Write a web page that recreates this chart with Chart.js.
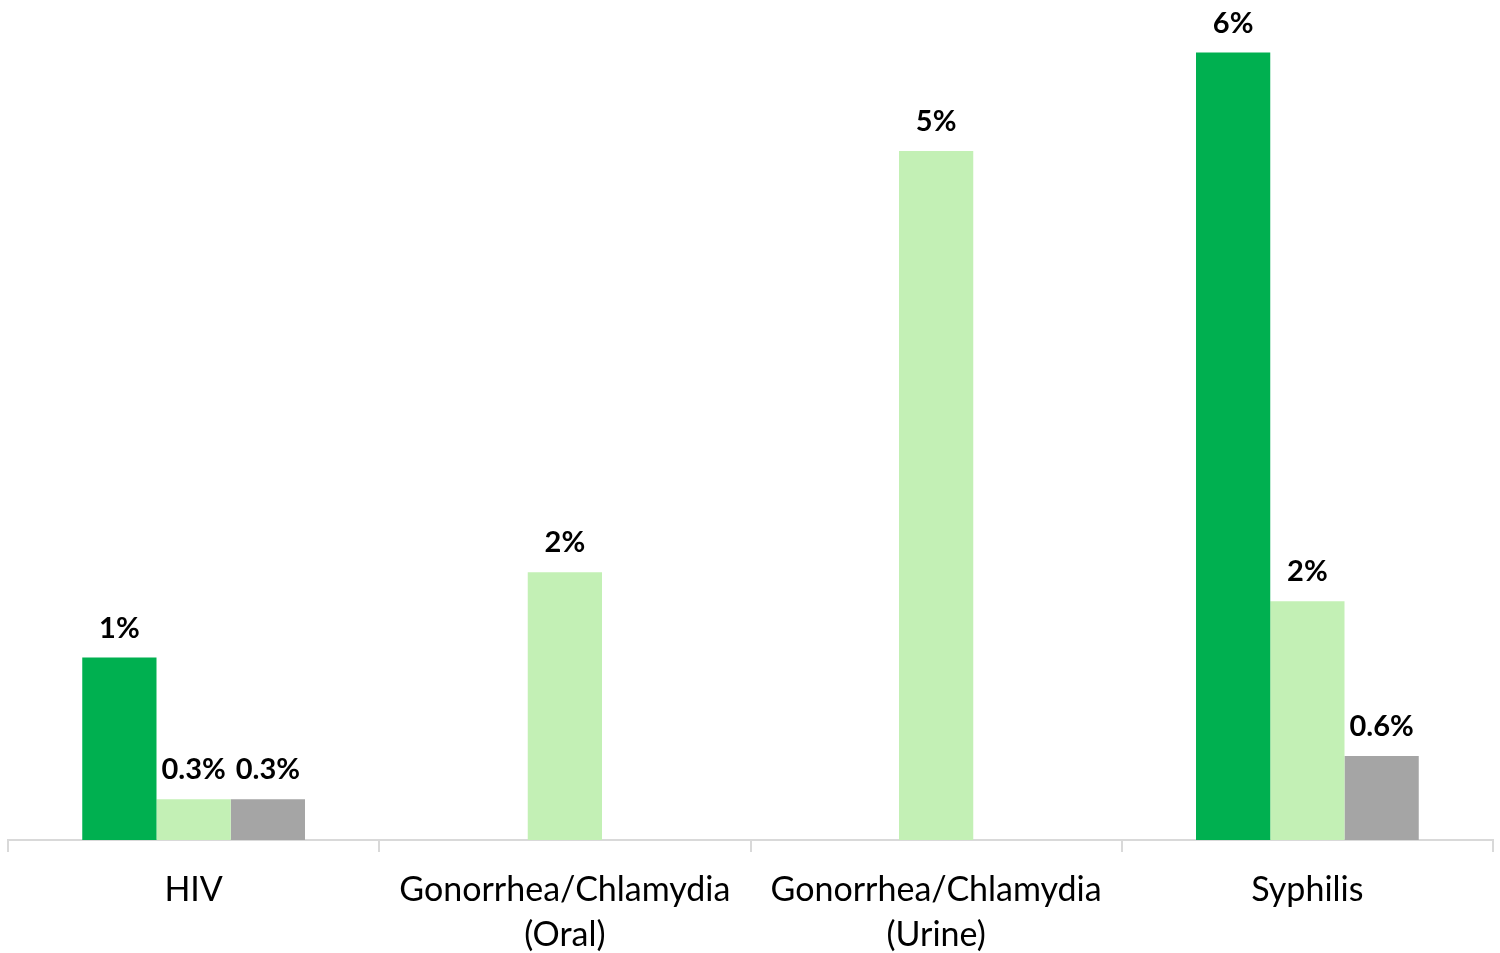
<!DOCTYPE html>
<html>
<head>
<meta charset="utf-8">
<script src="https://cdn.jsdelivr.net/npm/chart.js@4.4.1/dist/chart.umd.min.js"></script>
<style>
  html, body { margin: 0; padding: 0; background: #ffffff; }
  #wrap { width: 1500px; height: 953px; position: relative; }
</style>
</head>
<body>
<div id="wrap"><canvas id="chart"></canvas></div>
<script>
// Categories (x axis)
const categories = [
    'HIV',
    ['Gonorrhea/Chlamydia', '(Oral)'],
    ['Gonorrhea/Chlamydia', '(Urine)'],
    'Syphilis'
];

// Series values in percent (null = no bar)
const seriesDark = [1.39, null, null, 6.0];
const seriesLight = [0.31, 2.04, 5.25, 1.82];
const seriesGray = [0.31, null, null, 0.64];

// Label text
const formatPct = v => (v >= 1 ? Math.round(v) : v.toFixed(1)) + '%';

// Draw data labels above bars
const barLabels = {
    id: 'barLabels',
    afterDatasetsDraw(chart) {
        const ctx = chart.ctx;
        ctx.save();
        ctx.font = 'bold 29px Lato';
        ctx.fillStyle = '#000000';
        ctx.textAlign = 'center';
        ctx.textBaseline = 'alphabetic';
        chart.data.datasets.forEach((ds, i) => {
            const meta = chart.getDatasetMeta(i);
            meta.data.forEach((bar, j) => {
                const v = ds.data[j];
                if (v === null || v === undefined) return;
                ctx.fillText(formatPct(v), bar.x, bar.y - 20);
            });
        });
        ctx.restore();
    }
};

new Chart(document.getElementById('chart'), {
    type: 'bar',
    data: {
        labels: categories,
        datasets: [
            { label: 'A', data: seriesDark, backgroundColor: '#00b050' },
            { label: 'B', data: seriesLight, backgroundColor: '#c3f0b5' },
            { label: 'C', data: seriesGray, backgroundColor: '#a5a5a5' }
        ]
    },
    options: {
        responsive: true,
        maintainAspectRatio: false,
        animation: false,
        devicePixelRatio: 1,
        layout: {
            padding: { left: 8, right: 7, top: 0, bottom: 0 }
        },
        datasets: {
            bar: { barPercentage: 1, categoryPercentage: 0.6 }
        },
        plugins: {
            legend: { display: false },
            tooltip: { enabled: false }
        },
        scales: {
            x: {
                grid: {
                    drawOnChartArea: false,
                    drawTicks: true,
                    tickLength: 12,
                    color: '#d9d9d9',
                    lineWidth: 2
                },
                border: { display: true, color: '#d9d9d9', width: 2 },
                ticks: {
                    color: '#000000',
                    font: { family: 'Lato', size: 34, lineHeight: 1.32 },
                    padding: 16,
                    maxRotation: 0,
                    autoSkip: false
                },
                afterFit(scale) {
                    scale.height = 113;
                }
            },
            y: {
                display: false,
                min: 0,
                max: 6.4
            }
        }
    },
    plugins: [barLabels]
});
</script>
</body>
</html>
